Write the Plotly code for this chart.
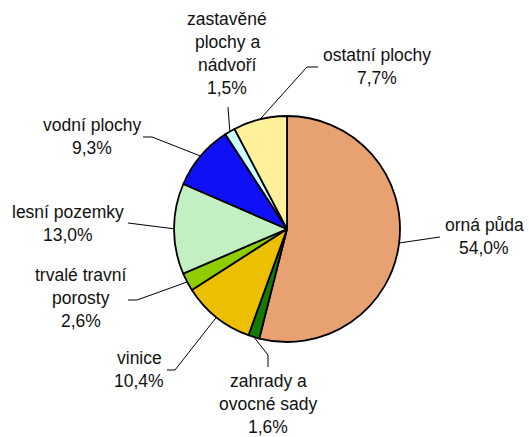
import math
import plotly.graph_objects as go

categories = ["orná půda", "zahrady a ovocné sady", "vinice", "trvalé travní porosty",
              "lesní pozemky", "vodní plochy", "zastavěné plochy a nádvoří", "ostatní plochy"]
values = [54.0, 1.6, 10.4, 2.6, 13.0, 9.3, 1.5, 7.7]
colors = ["#E8A272", "#167A00", "#ECBF00", "#8FCC00", "#C2F0C2", "#1010F5", "#CCFFFF", "#FFF09C"]

# label layout (pixel positions of text lines) and leader line elbows
label_lines = [
    ["orná půda", "54,0%"],
    ["zahrady a", "ovocné sady", "1,6%"],
    ["vinice", "10,4%"],
    ["trvalé travní", "porosty", "2,6%"],
    ["lesní pozemky", "13,0%"],
    ["vodní plochy", "9,3%"],
    ["zastavěné", "plochy a", "nádvoří", "1,5%"],
    ["ostatní plochy", "7,7%"],
]
label_pos = [(484, 225), (268, 381), (139, 358), (81, 275), (68, 212), (92, 125), (227, 19), (377, 55)]
leader_pts = [
    [(440, 237)],
    [(268, 367), (268, 355)],
    [(167, 370), (175, 370)],
    [(128, 300), (137, 300)],
    [(128, 223)],
    [(143, 137), (152, 137)],
    [(228, 107)],
    [(318, 67), (307, 67)],
]

W, H = 529, 437
cx, cy, R = 287, 229, 113
LH = 23.0

fig = go.Figure()
fig.add_trace(go.Pie(
    labels=categories, values=values, sort=False, direction="clockwise", rotation=0,
    marker=dict(colors=colors, line=dict(color="black", width=1.8)),
    textinfo="none", hoverinfo="label+percent", showlegend=False,
    domain=dict(x=[(cx - R) / W, (cx + R) / W], y=[(H - cy - R) / H, (H - cy + R) / H]),
))

total = sum(values)
cum = 0.0
for i, v in enumerate(values):
    mid = (cum + v / 2) / total * 2 * math.pi
    cum += v
    ex = cx + R * math.sin(mid)
    ey = cy - R * math.cos(mid)
    pts = [(ex, ey)] + list(reversed(leader_pts[i]))
    path = "M %f %f " % (pts[0][0] / W, 1 - pts[0][1] / H)
    for (px, py) in pts[1:]:
        path += "L %f %f " % (px / W, 1 - py / H)
    fig.add_shape(type="path", path=path, xref="paper", yref="paper",
                  line=dict(color="black", width=1))
    lx, ly = label_pos[i]
    for j, t in enumerate(label_lines[i]):
        fig.add_annotation(x=lx / W, y=1 - (ly + j * LH) / H, xref="paper", yref="paper",
                           text=t, showarrow=False, xanchor="center", yanchor="middle",
                           font=dict(family="Liberation Sans, Arial, sans-serif", size=17.5, color="#111111"))

fig.update_layout(width=W, height=H, margin=dict(l=0, r=0, t=0, b=0),
                  paper_bgcolor="white", plot_bgcolor="white")
fig.write_html("out.html", config={"displayModeBar": False},
               post_script="document.body.style.margin='0';document.body.style.overflow='hidden';")
